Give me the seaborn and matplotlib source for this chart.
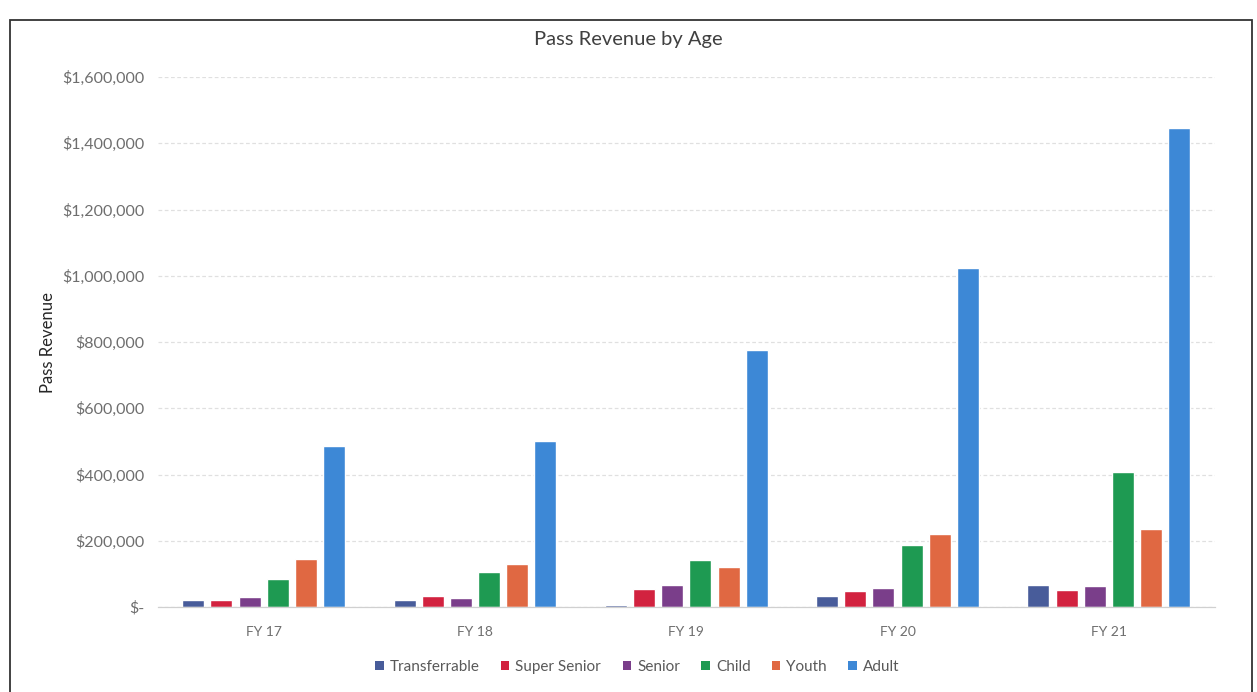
import matplotlib
matplotlib.use("Agg")
import matplotlib.pyplot as plt
from matplotlib.patches import Rectangle, Patch
from matplotlib.ticker import FuncFormatter, MultipleLocator
import seaborn as sns
import pandas as pd

# Fiscal years and pass categories
years = ["FY 17", "FY 18", "FY 19", "FY 20", "FY 21"]
categories = ["Transferrable", "Super Senior", "Senior", "Child", "Youth", "Adult"]

# Pass revenue per category, one value per fiscal year
transferrable = [20000, 22000, 5000, 33000, 65000]
super_senior = [22000, 32000, 55000, 49000, 52000]
senior = [30000, 28000, 65000, 57000, 62000]
child = [86000, 106000, 142000, 187000, 409000]
youth = [144000, 131000, 120000, 220000, 236000]
adult = [485000, 500000, 775000, 1022000, 1446000]

colors = ["#485C9A", "#D2223F", "#7A3E8A", "#1E9A52", "#E06842", "#3D88D6"]

series = [transferrable, super_senior, senior, child, youth, adult]
df = pd.DataFrame(
    [(y, c, v) for c, vals in zip(categories, series) for y, v in zip(years, vals)],
    columns=["Year", "Category", "Revenue"],
)

sns.set_theme(style="white")
plt.rcParams["font.family"] = ["Lato", "DejaVu Sans"]

fig = plt.figure(figsize=(12.57, 6.92), dpi=100)
ax = fig.add_axes([0.1257, 0.1228, 0.8405, 0.7659])

sns.barplot(
    data=df, x="Year", y="Revenue", hue="Category",
    order=years, hue_order=categories, palette=colors,
    width=0.8, gap=0.22, saturation=1, legend=False, ax=ax,
)

ax.set_ylim(0, 1600000)
ax.yaxis.set_major_locator(MultipleLocator(200000))
ax.yaxis.set_major_formatter(
    FuncFormatter(lambda v, _: "$-" if v == 0 else f"${v:,.0f}")
)
ax.grid(axis="y", color="#E0E0E0", linewidth=0.9, linestyle=(0, (3, 2)))
ax.set_axisbelow(True)
for side in ["left", "right", "top"]:
    ax.spines[side].set_visible(False)
ax.spines["bottom"].set_color("#D0D0D0")
ax.spines["bottom"].set_linewidth(0.9)

ax.tick_params(axis="both", length=0, labelcolor="#6E6E6E")
ax.tick_params(axis="y", pad=10, labelsize=11.5)
ax.tick_params(axis="x", pad=14, labelsize=10)
ax.set_xlabel("")
ax.set_ylabel("Pass Revenue", fontsize=12, color="#262626", labelpad=4)

fig.suptitle("Pass Revenue by Age", fontsize=14.5, color="#404040",
             x=0.5, y=0.943, va="center")

handles = [Patch(facecolor=c, edgecolor="none") for c in colors]
fig.legend(
    handles, categories, loc="center", bbox_to_anchor=(0.507, 0.036), ncol=6,
    frameon=False, fontsize=11, handlelength=0.55, handleheight=0.55,
    handletextpad=0.4, columnspacing=1.4, labelcolor="#595959",
)

# chart frame
fig.patches.append(Rectangle(
    (10 / 1257, -0.02), 1242 / 1257, 1 - 20 / 692 + 0.02,
    transform=fig.transFigure, fill=False, edgecolor="#333333", linewidth=1.3,
))

fig.savefig("out.png", dpi=100, facecolor="white")
